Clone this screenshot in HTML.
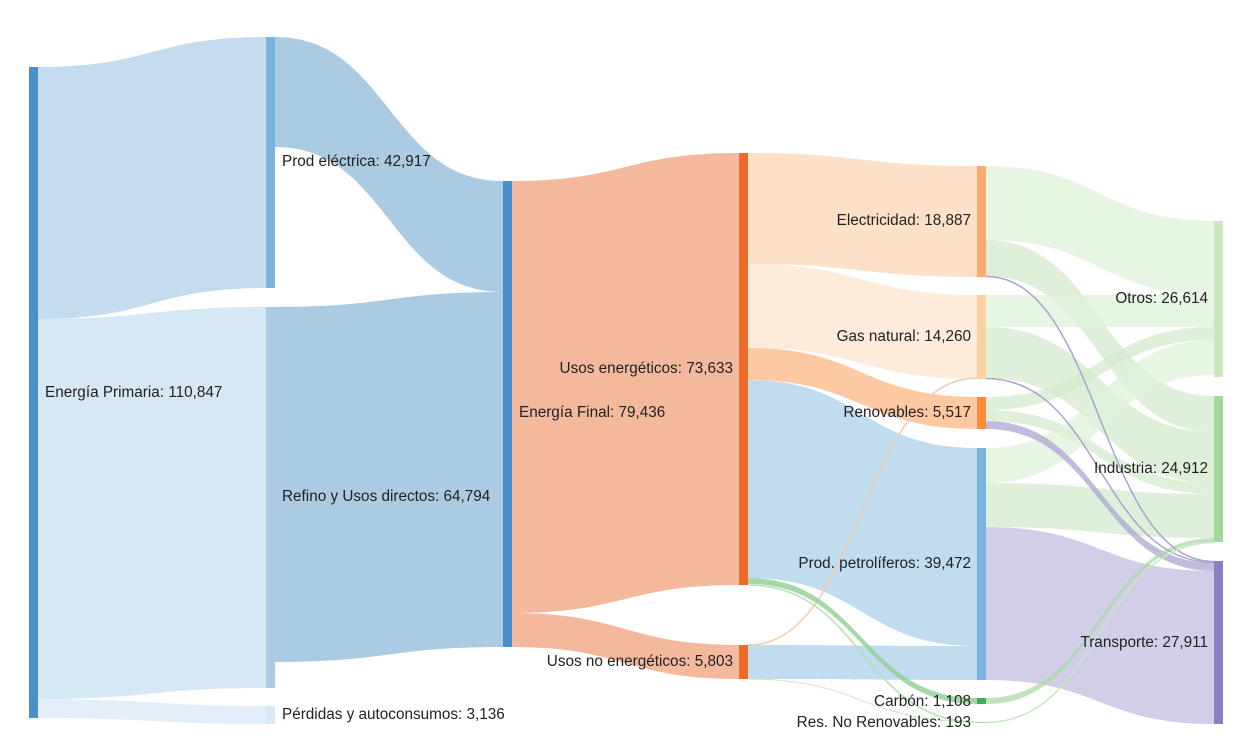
<!DOCTYPE html>
<html><head><meta charset="utf-8"><style>
body{margin:0;background:#fff;}
svg{display:block;}
text{font-family:"Liberation Sans",sans-serif;font-size:15.3px;fill:#222;dominant-baseline:middle;}
</style></head><body>
<svg width="1255" height="752" viewBox="0 0 1255 752">
<!-- col1->2 -->
<path d="M38,67 C152,67 152,37 266,37 L266,288 C152,288 152,319 38,319Z" fill="#c3ddef"/>
<path d="M38,319 C152,319 152,307 266,307 L266,688 C152,688 152,699 38,699Z" fill="#d6e8f4"/>
<path d="M38,699 C152,699 152,706 266,706 L266,724 C152,724 152,718 38,718Z" fill="#e4eef9"/>
<!-- col2->3 -->
<path d="M275,37 C389,37 389,181 503,181 L503,292 C389,292 389,147 275,147Z" fill="#abcbe3"/>
<path d="M275,307 C389,307 389,292 503,292 L503,647 C389,647 389,662 275,662Z" fill="#abcbe3"/>
<!-- col3->4 -->
<path d="M512,181 C625,181 625,153 739,153 L739,585 C625,585 625,613 512,613Z" fill="#f4b99c"/>
<path d="M512,613 C625,613 625,645 739,645 L739,679 C625,679 625,647 512,647Z" fill="#f4b99c"/>
<!-- col4->5 -->
<path d="M748,153 C862,153 862,166 977,166 L977,277 C862,277 862,264 748,264Z" fill="#fde0c8"/>
<path d="M748,264 C862,264 862,295 977,295 L977,379 C862,379 862,348 748,348Z" fill="#fdebdb"/>
<path d="M748,348 C862,348 862,397 977,397 L977,429 C862,429 862,380 748,380Z" fill="#fdc9a2"/>
<path d="M748,380 C862,380 862,448 977,448 L977,646 C862,646 862,578 748,578Z" fill="#c2dcef"/>
<path d="M748,645 C862,645 862,646 977,646 L977,680 C862,680 862,679 748,679Z" fill="#c2dcef"/>
<path d="M748,645 C862,645 862,378 977,378" fill="none" stroke="#f6c9ae" stroke-width="1.5"/>
<path d="M748,578 C862,578 862,698 977,698 L977,704 C862,704 862,584 748,584Z" fill="#8fcf95" fill-opacity="0.8"/>
<path d="M748,585 C862,585 862,722 977,722" fill="none" stroke="#b5e0b0" stroke-width="1.5"/>
<path d="M748,679 C862,679 862,722 977,722" fill="none" stroke="#c8e8c3" stroke-width="1"/>
<!-- col5->6 -->
<g fill-opacity="0.75">
<path d="M986,166 C1100,166 1100,221 1214,221 L1214,295 C1100,295 1100,240 986,240Z" fill="#dff1d9"/>
<path d="M986,240 C1100,240 1100,396 1214,396 L1214,432 C1100,432 1100,276 986,276Z" fill="#d3ebcd"/>
<path d="M986,295 C1100,295 1100,295 1214,295 L1214,327 C1100,327 1100,327 986,327Z" fill="#dff1d9"/>
<path d="M986,327 C1100,327 1100,432 1214,432 L1214,483 C1100,483 1100,378 986,378Z" fill="#d3ebcd"/>
<path d="M986,397 C1100,397 1100,327 1214,327 L1214,340 C1100,340 1100,410 986,410Z" fill="#d3ebcd"/>
<path d="M986,410 C1100,410 1100,483 1214,483 L1214,494 C1100,494 1100,421 986,421Z" fill="#d3ebcd"/>
<path d="M986,448 C1100,448 1100,340 1214,340 L1214,375 C1100,375 1100,483 986,483Z" fill="#dff1d9"/>
<path d="M986,483 C1100,483 1100,494 1214,494 L1214,538 C1100,538 1100,527 986,527Z" fill="#d3ebcd"/>
<path d="M986,527 C1100,527 1100,571 1214,571 L1214,724 C1100,724 1100,680 986,680Z" fill="#c3bde0"/>
<path d="M986,421 C1100,421 1100,563 1214,563 L1214,571 C1100,571 1100,429 986,429Z" fill="#aca5d3"/>
<path d="M986,698 C1100,698 1100,538 1214,538 L1214,542 C1100,542 1100,704 986,704Z" fill="#a9dba4"/>
</g>
<path d="M986,276.5 C1100,276.5 1100,561.5 1214,561.5" fill="none" stroke="#a9a3cf" stroke-width="1.5"/>
<path d="M986,378.5 C1100,378.5 1100,562.5 1214,562.5" fill="none" stroke="#a9a3cf" stroke-width="1.5"/>
<path d="M986,722.5 C1100,722.5 1100,542.5 1214,542.5" fill="none" stroke="#c8e8c3" stroke-width="1.5"/>
<!-- nodes -->
<rect x="29" y="67" width="9" height="651" fill="#4a8fc7"/>
<rect x="266" y="37" width="9" height="251" fill="#7ab3dc"/>
<rect x="266" y="307" width="9" height="381" fill="#abcbe3"/>
<rect x="266" y="706" width="9" height="18" fill="#dbe8f6"/>
<rect x="503" y="181" width="9" height="466" fill="#4a8fc7"/>
<rect x="739" y="153" width="9" height="432" fill="#ec6a2a"/>
<rect x="739" y="645" width="9" height="34" fill="#ec6a2a"/>
<rect x="977" y="166" width="9" height="111" fill="#fdac6d"/>
<rect x="977" y="295" width="9" height="84" fill="#fdd0a2"/>
<rect x="977" y="397" width="9" height="32" fill="#fd8d3c"/>
<rect x="977" y="448" width="9" height="232" fill="#78b4db"/>
<rect x="977" y="698" width="9" height="6" fill="#41ab5d"/>
<rect x="977" y="722" width="9" height="1" fill="#a1d99b"/>
<rect x="1214" y="221" width="9" height="156" fill="#c7e9c0"/>
<rect x="1214" y="396" width="9" height="146" fill="#a1d99b"/>
<rect x="1214" y="561" width="9" height="163" fill="#8a7fc0"/>
<!-- labels -->
<text x="45" y="393">Energía Primaria: 110,847</text>
<text x="282" y="162">Prod eléctrica: 42,917</text>
<text x="282" y="497">Refino y Usos directos: 64,794</text>
<text x="282" y="715">Pérdidas y autoconsumos: 3,136</text>
<text x="519" y="413">Energía Final: 79,436</text>
<g text-anchor="end">
<text x="733" y="369">Usos energéticos: 73,633</text>
<text x="733" y="662">Usos no energéticos: 5,803</text>
<text x="971" y="221">Electricidad: 18,887</text>
<text x="971" y="337">Gas natural: 14,260</text>
<text x="971" y="413">Renovables: 5,517</text>
<text x="971" y="564">Prod. petrolíferos: 39,472</text>
<text x="971" y="702">Carbón: 1,108</text>
<text x="971" y="723">Res. No Renovables: 193</text>
<text x="1208" y="299">Otros: 26,614</text>
<text x="1208" y="469">Industria: 24,912</text>
<text x="1208" y="643">Transporte: 27,911</text>
</g>
</svg>
</body></html>
